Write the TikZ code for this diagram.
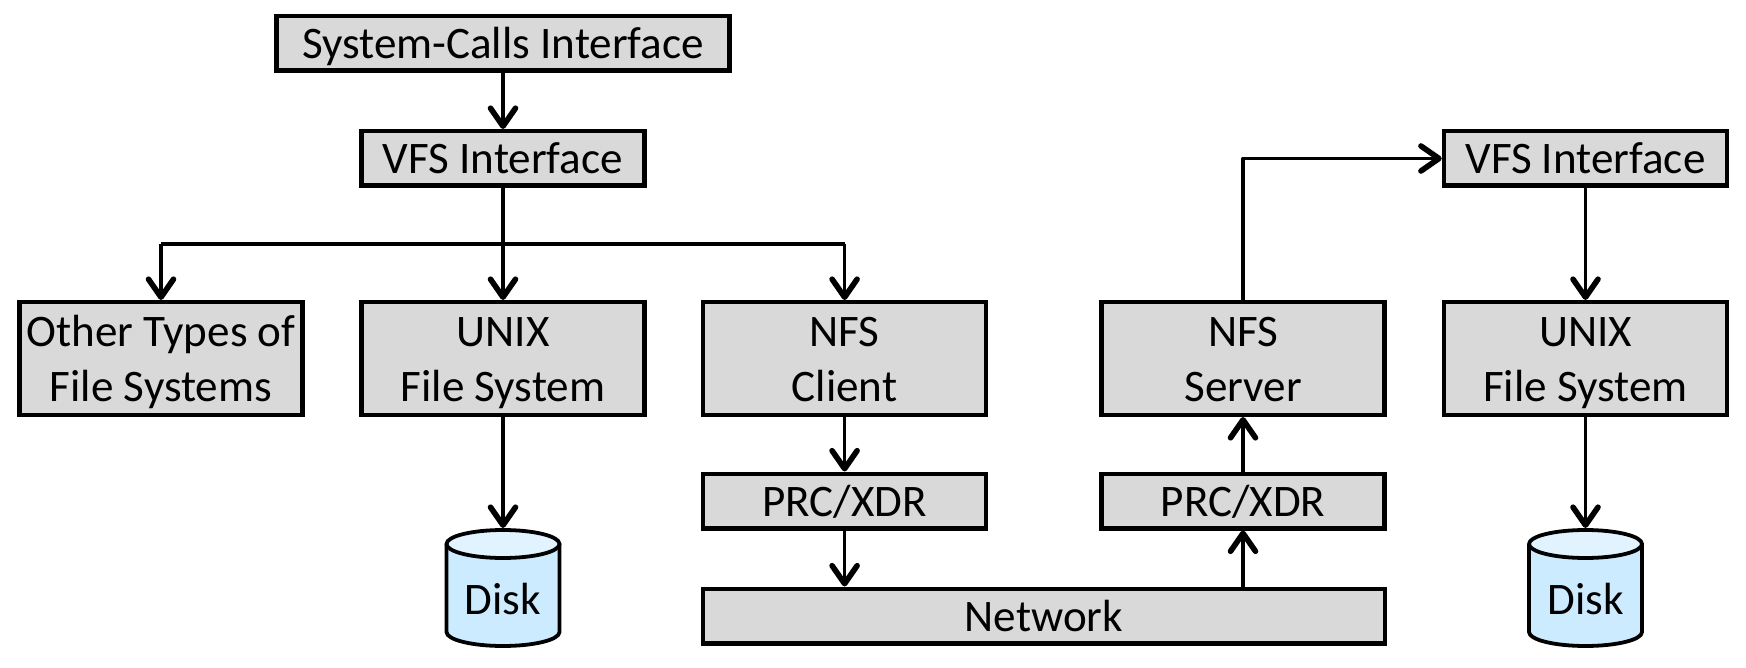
\documentclass[tikz,border=0pt]{standalone}
\usepackage{fontspec}
\setmainfont{Carlito}
\usetikzlibrary{arrows.meta}
\definecolor{boxgray}{HTML}{D9D9D9}
\definecolor{diskbody}{HTML}{CCEBFF}
\definecolor{disktop}{HTML}{E0F3FF}
\newcommand\lst{\rule[-11.75pt]{0pt}{54.5pt}}
\newcommand\diskshape[1]{%
  \path[diskline, fill=diskbody] ([xshift=-56.5pt,yshift=-16pt]#1.north) -- ([xshift=-56.5pt,yshift=14pt]#1.south)
    arc[x radius=56.5pt,y radius=14pt,start angle=180,end angle=360]
    -- ([xshift=56.5pt,yshift=-16pt]#1.north) -- cycle;
  \path[diskline, fill=disktop] ([yshift=-16pt]#1.north) ellipse[x radius=56.5pt,y radius=14pt];
}
\tikzset{
  txt/.style={font=\fontsize{45.1}{54.5}\selectfont, text=black, align=flush center},
  box/.style={txt, draw=black, fill=boxgray, line width=4.5pt, inner sep=0pt, rectangle, minimum width=#1-3pt, text width=#1-6pt},
  short/.style={minimum height=54pt},
  tall/.style={minimum height=112.5pt},
  con/.style={draw=black, line width=3.6pt, line join=round},
  arr/.style={con, -{Straight Barb[length=18pt,width=25pt,line width=5.6pt,round]}},
  bus/.style={draw=black, line width=4.8pt},
  diskline/.style={draw=black, line width=3.8pt, line join=round},
  diskframe/.style={rectangle, inner sep=0pt, outer sep=0pt, minimum width=117pt, minimum height=118pt},
  disktxt/.style={txt, inner sep=0pt}
}
\begin{document}
\begin{tikzpicture}[x=1pt,y=-1pt]
\useasboundingbox (0,0) rectangle (1746,668);
\node[box=456pt,short] (sys) at (503,43.5) {\lst System-Calls Interface};
\node[box=286pt,short] (vfsa) at (503,158.5) {\lst VFS Interface};
\node[box=286pt,tall] (other) at (161,358.5) {\lst Other Types of\\\lst File Systems};
\node[box=286pt,tall] (unixa) at (503,358.5) {\lst UNIX\\\lst File System};
\node[box=286pt,tall] (client) at (844.6,358.5) {\lst NFS\\\lst Client};
\node[box=286pt,tall] (server) at (1243,358.5) {\lst NFS\\\lst Server};
\node[box=286pt,tall] (unixb) at (1585.5,358.5) {\lst UNIX\\\lst File System};
\node[box=286pt,short] (vfsb) at (1585.5,158.5) {\lst VFS Interface};
\node[box=286pt,short] (prca) at (844.6,501) {\lst PRC/XDR};
\node[box=286pt,short] (prcb) at (1243,501) {\lst PRC/XDR};
\node[box=685pt,short] (net) at (1043.8,616) {\lst Network};
\node[diskframe] (diska) at (503,587) {};
\node[diskframe] (diskb) at (1585.5,587) {};
\begin{scope}[y=1pt]
\diskshape{diska}
\diskshape{diskb}
\end{scope}
\node[disktxt] (diskatxt) at (503,599) {\lst Disk};
\node[disktxt] (diskbtxt) at (1585.5,599) {\lst Disk};
\coordinate (split) at (503,244);
\draw[arr] (sys.south) -- (vfsa.north);
\draw[con] (vfsa.south) -- (split);
\draw[bus] (other.north |- split) -- (client.north |- split);
\draw[arr] (split) -- (unixa.north);
\draw[arr] (other.north |- split) -- (other.north);
\draw[arr] (client.north |- split) -- (client.north);
\draw[arr] (unixa.south) -- (diska.north);
\draw[arr] (client.south) -- (prca.north);
\draw[arr] (prca.south) -- (prca.south |- net.north);
\draw[arr] (prcb.south |- net.north) -- (prcb.south);
\draw[arr] (prcb.north) -- (server.south);
\draw[arr] (server.north) |- (vfsb.west);
\draw[arr] (vfsb.south) -- (unixb.north);
\draw[arr] (unixb.south) -- (diskb.north);
\end{tikzpicture}
\end{document}
